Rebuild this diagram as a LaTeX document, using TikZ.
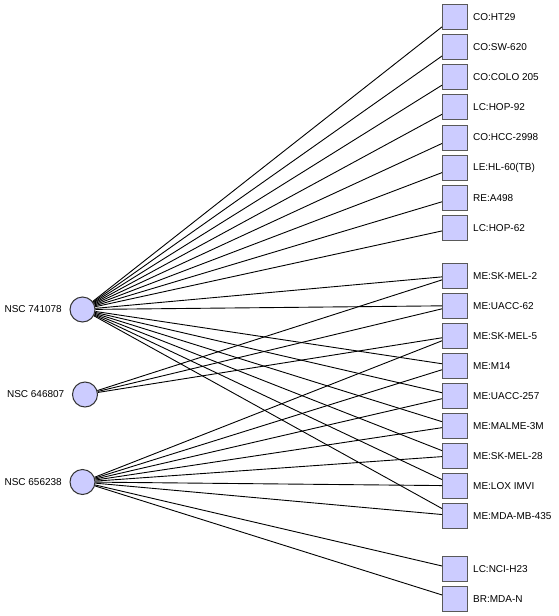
\documentclass[tikz,border=0pt]{standalone}
\usepackage{fontspec}
\setmainfont{Liberation Sans}
\definecolor{nodefill}{RGB}{204,204,255}
\begin{document}
\begin{tikzpicture}[x=1pt,y=-1pt,
  cell/.style={draw=black!65, fill=nodefill, minimum size=25pt, inner sep=0pt, line width=1pt},
  drug/.style={circle, draw=black!80, fill=nodefill, minimum size=25pt, inner sep=0pt, line width=1pt},
  lab/.style={font=\fontsize{10}{12}\selectfont, inner sep=0pt},
  link/.style={line width=0.9pt, black}]
\useasboundingbox (0,0) rectangle (558,616);
% drugs
\node[drug] (d1) at (82.5,309.5) {};
\node[drug] (d2) at (85,394.5) {};
\node[drug] (d3) at (82.5,482) {};
\node[lab, anchor=east] (l1) at (62,309.5) {NSC 741078};
\node[lab, anchor=east] (l2) at (64.5,394.5) {NSC 646807};
\node[lab, anchor=east] (l3) at (62,482) {NSC 656238};
% cells
\foreach \n/\t [count=\i from 0] in {c1/CO:HT29,c2/CO:SW-620,c3/CO:COLO 205,c4/LC:HOP-92,c5/CO:HCC-2998,c6/LE:HL-60(TB),c7/RE:A498,c8/LC:HOP-62}{
  \node[cell] (\n) at (455,16.7+30.2*\i) {};
  \node[lab, anchor=west] (\n t) at (473,16.7+30.2*\i) {\t};
}
\foreach \n/\t [count=\i from 0] in {m1/ME:SK-MEL-2,m2/ME:UACC-62,m3/ME:SK-MEL-5,m4/ME:M14,m5/ME:UACC-257,m6/ME:MALME-3M,m7/ME:SK-MEL-28,m8/ME:LOX IMVI,m9/ME:MDA-MB-435}{
  \node[cell] (\n) at (455,275.7+30*\i) {};
  \node[lab, anchor=west] (\n t) at (473,275.7+30*\i) {\t};
}
\node[cell] (n1) at (455,569) {};
\node[lab, anchor=west] (n1t) at (473,569) {LC:NCI-H23};
\node[cell] (n2) at (455,599) {};
\node[lab, anchor=west] (n2t) at (473,599) {BR:MDA-N};
% links
\foreach \c in {c1,c2,c3,c4,c5,c6,c7,c8,m1,m2,m4,m5,m6,m7,m8,m9}{
  \draw[link] (d1) -- (\c);
}
\foreach \c in {m1,m2,m3}{
  \draw[link] (d2) -- (\c);
}
\foreach \c in {m3,m4,m5,m6,m7,m8,m9,n1,n2}{
  \draw[link] (d3) -- (\c);
}
\end{tikzpicture}
\end{document}
